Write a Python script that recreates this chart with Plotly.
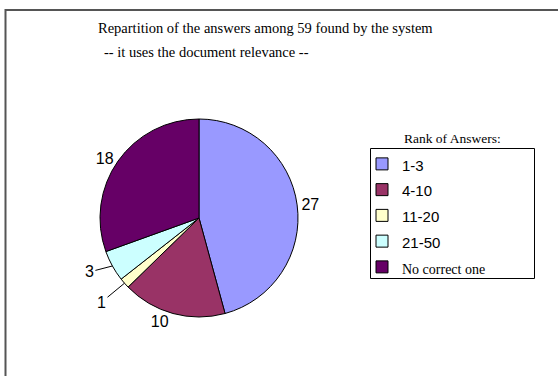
import math
import plotly.graph_objects as go

categories = ["1-3", "4-10", "11-20", "21-50", "No correct one"]
values = [27, 10, 1, 3, 18]
colors = ["#9999FF", "#993366", "#FFFFCC", "#CCFFFF", "#660066"]
title_text = "Repartition of the answers among 59 found by the system"
subtitle_text = "-- it uses the document relevance --"
legend_title = "Rank of Answers:"

W, H = 558, 376
SERIF = "Liberation Serif, Times New Roman, serif"
SANS = "Liberation Sans, Arial, sans-serif"

# pie geometry (pixels)
CX, CY, R = 199, 218, 99
SMALL = 4  # slices below this value get a leader-line label

legend_labels = []
for c in categories:
    if c[0].isdigit():
        legend_labels.append(f'<span style="font-family:{SANS};font-size:15px">{c}</span>')
    else:
        legend_labels.append(f'<span style="font-family:{SERIF};font-size:14px">{c}</span>')

slice_text = [str(v) if v >= SMALL else "" for v in values]

fig = go.Figure(go.Pie(
    labels=legend_labels,
    values=values,
    text=slice_text,
    marker=dict(colors=colors, line=dict(color="black", width=1)),
    sort=False,
    direction="clockwise",
    rotation=0,
    textinfo="text",
    textposition="outside",
    textfont=dict(family=SANS, size=16, color="black"),
    domain=dict(x=[(CX - R) / W, (CX + R) / W], y=[(H - CY - R) / H, (H - CY + R) / H]),
    hoverinfo="label+value",
    showlegend=True,
))

# leader-line labels for the small slices, anchored at the slice's mid-angle on the rim
total = sum(values)
annotations = []
cum = 0
for v in values:
    mid = (cum + v / 2) / total * 2 * math.pi
    cum += v
    if v >= SMALL:
        continue
    px = CX + R * math.sin(mid)
    py = CY - R * math.cos(mid)
    annotations.append(dict(
        text=str(v), x=px / W, y=1 - py / H, xref="paper", yref="paper",
        showarrow=True, arrowhead=0, arrowwidth=1, arrowcolor="black",
        ax=-23, ay=6 + 6.5 * (SMALL - 1 - v),
        font=dict(family=SANS, size=16, color="black"),
    ))

annotations += [
    dict(text=title_text, x=265 / W, y=1 - 28 / H, xref="paper", yref="paper",
         showarrow=False, xanchor="center", yanchor="middle",
         font=dict(family=SERIF, size=14.5, color="black")),
    dict(text=subtitle_text, x=102 / W, y=1 - 52 / H, xref="paper", yref="paper",
         showarrow=False, xanchor="left", yanchor="middle",
         font=dict(family=SERIF, size=14.5, color="black")),
    dict(text=legend_title, x=452 / W, y=1 - 138 / H, xref="paper", yref="paper",
         showarrow=False, xanchor="center", yanchor="middle",
         font=dict(family=SERIF, size=13.5, color="black")),
]

fig.update_layout(
    width=W, height=H,
    margin=dict(l=0, r=0, t=0, b=0),
    paper_bgcolor="white",
    plot_bgcolor="white",
    legend=dict(
        x=362 / W, y=1 - 146 / H, xanchor="left", yanchor="top",
        borderwidth=0, bgcolor="rgba(0,0,0,0)",
        font=dict(family=SANS, size=17.5, color="black"),
        itemwidth=30,
        tracegroupgap=0,
    ),
    shapes=[
        dict(type="rect", xref="paper", yref="paper",
             x0=5.5 / W, x1=1.05, y0=-0.05, y1=1 - 10 / H,
             line=dict(color="#555555", width=2)),
        dict(type="rect", xref="paper", yref="paper",
             x0=370.5 / W, x1=534.5 / W, y0=1 - 278.5 / H, y1=1 - 148.5 / H,
             line=dict(color="black", width=1)),
    ],
    annotations=annotations,
)

fig.write_html("out.html")
